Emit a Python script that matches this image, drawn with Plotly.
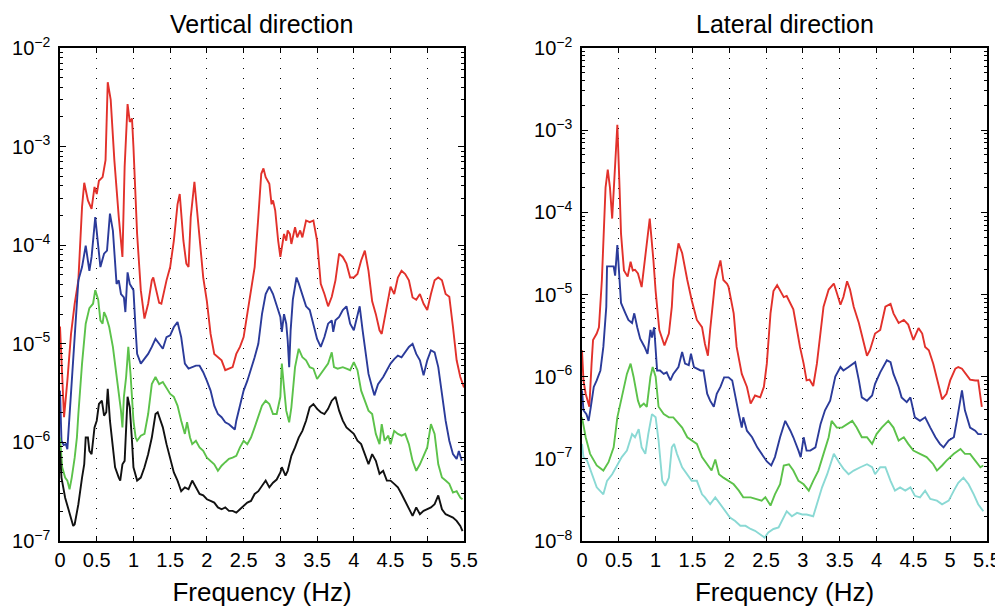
import plotly.graph_objects as go
from plotly.subplots import make_subplots

# ---- Vertical direction ----
v_red_f = [0.00, 0.055, 0.10, 0.15, 0.20, 0.25, 0.30, 0.33, 0.38, 0.43, 0.47, 0.50, 0.53, 0.58, 0.62,
           0.65, 0.69, 0.74, 0.80, 0.85, 0.88, 0.92, 0.95, 0.98, 1.00, 1.05, 1.10, 1.15, 1.20, 1.25,
           1.27, 1.31, 1.35, 1.38, 1.42, 1.45, 1.50, 1.55, 1.60, 1.63, 1.68, 1.72, 1.75, 1.78, 1.83,
           1.90, 1.95, 2.00, 2.05, 2.10, 2.15, 2.20, 2.25, 2.30, 2.35, 2.40, 2.45, 2.50, 2.55, 2.60,
           2.65, 2.70, 2.74, 2.77, 2.80, 2.85, 2.88, 2.90, 2.93, 2.97, 3.00, 3.05, 3.08, 3.10, 3.13,
           3.15, 3.20, 3.23, 3.27, 3.30, 3.35, 3.40, 3.45, 3.50, 3.55, 3.60, 3.65, 3.70, 3.75, 3.80,
           3.85, 3.90, 3.95, 4.00, 4.05, 4.10, 4.15, 4.20, 4.25, 4.30, 4.35, 4.38, 4.42, 4.47, 4.50,
           4.55, 4.60, 4.65, 4.70, 4.75, 4.80, 4.85, 4.90, 4.95, 5.00, 5.05, 5.10, 5.15, 5.20, 5.25,
           5.30, 5.35, 5.40, 5.45, 5.50]
v_red = [1.5e-5, 1.8e-6, 4.2e-6, 1.26e-5, 2.55e-5, 4.4e-5, 2.45e-4, 4.3e-4, 2.85e-4, 2.34e-4, 3.9e-4,
         3.3e-4, 4.5e-4, 4.9e-4, 7.3e-4, 4.5e-3, 3.0e-3, 7.3e-4, 1.93e-4, 7.6e-5, 6.2e-4, 2.7e-3,
         1.78e-3, 1.93e-3, 9.9e-4, 1.3e-4, 3.5e-5, 1.8e-5, 2.55e-5, 4.4e-5, 4.7e-5, 3.5e-5, 2.6e-5,
         2.55e-5, 3.5e-5, 4.4e-5, 6.0e-5, 1.11e-4, 2.6e-4, 3.3e-4, 1.11e-4, 6.5e-5, 6.0e-5, 1.93e-4,
         4.4e-4, 1.2e-4, 4.7e-5, 2.7e-5, 1.26e-5, 7.9e-6, 7.3e-6, 6.8e-6, 5.4e-6, 5.6e-6, 5.8e-6,
         7.9e-6, 9.3e-6, 1.17e-5, 2.0e-5, 3.8e-5, 6.0e-5, 1.93e-4, 5.3e-4, 6.0e-4, 4.9e-4, 4.2e-4,
         2.6e-4, 2.85e-4, 2.25e-4, 1.11e-4, 7.6e-5, 1.3e-4, 1.11e-4, 1.41e-4, 1.3e-4, 1.03e-4, 1.52e-4,
         1.2e-4, 1.41e-4, 1.2e-4, 1.78e-4, 1.71e-4, 1.78e-4, 1.11e-4, 4.05e-5, 3.2e-5, 2.4e-5, 3.0e-5,
         4.4e-5, 8.2e-5, 7.6e-5, 6.5e-5, 4.7e-5, 4.7e-5, 5.1e-5, 7.0e-5, 8.8e-5, 5.5e-5, 2.7e-5,
         2.0e-5, 1.37e-5, 1.26e-5, 1.87e-5, 2.8e-5, 3.8e-5, 3.2e-5, 4.7e-5, 5.5e-5, 5.1e-5, 4.4e-5,
         2.95e-5, 2.8e-5, 3.2e-5, 2.55e-5, 2.2e-5, 3.2e-5, 4.4e-5, 4.7e-5, 4.4e-5, 3.2e-5, 3.0e-5,
         1.48e-5, 6.8e-6, 4.6e-6, 3.6e-6]

v_blue_f = [0.00, 0.02, 0.05, 0.08, 0.10, 0.12, 0.15, 0.20, 0.25, 0.30, 0.35, 0.40, 0.43, 0.48, 0.52,
            0.55, 0.60, 0.64, 0.68, 0.72, 0.77, 0.80, 0.83, 0.87, 0.89, 0.92, 0.95, 1.00, 1.03, 1.05,
            1.10, 1.15, 1.20, 1.25, 1.30, 1.35, 1.40, 1.45, 1.50, 1.55, 1.60, 1.65, 1.70, 1.75, 1.80,
            1.85, 1.90, 1.95, 2.00, 2.05, 2.10, 2.15, 2.20, 2.25, 2.30, 2.35, 2.38, 2.40, 2.45, 2.50,
            2.55, 2.60, 2.65, 2.70, 2.75, 2.80, 2.85, 2.90, 2.95, 3.00, 3.02, 3.05, 3.08, 3.10, 3.12,
            3.14, 3.17, 3.20, 3.22, 3.25, 3.30, 3.35, 3.40, 3.45, 3.50, 3.55, 3.60, 3.65, 3.70, 3.72,
            3.75, 3.80, 3.85, 3.90, 3.95, 4.00, 4.05, 4.08, 4.12, 4.17, 4.20, 4.25, 4.28, 4.33, 4.40,
            4.45, 4.50, 4.55, 4.60, 4.65, 4.70, 4.75, 4.80, 4.85, 4.90, 4.95, 5.00, 5.05, 5.10, 5.15,
            5.20, 5.25, 5.30, 5.35, 5.40, 5.43, 5.47]
v_blue = [3.35e-6, 1.04e-6, 9.4e-7, 9.6e-7, 8.55e-7, 1.42e-6, 3.35e-6, 1.17e-5, 4.4e-5, 6.0e-5, 9.9e-5,
          5.5e-5, 7.6e-5, 1.93e-4, 9.5e-5, 6.0e-5, 8.2e-5, 8.8e-5, 2.09e-4, 1.41e-4, 4.05e-5, 4.4e-5,
          3.2e-5, 2.95e-5, 2.1e-5, 5.3e-5, 4.05e-5, 3.5e-5, 1.37e-5, 7.9e-6, 6.3e-6, 7.0e-6, 7.9e-6,
          9.3e-6, 1.12e-5, 1.0e-5, 8.9e-6, 1.17e-5, 1.22e-5, 1.48e-5, 1.66e-5, 1.17e-5, 6.3e-6, 5.6e-6,
          5.8e-6, 6.0e-6, 6.0e-6, 5.15e-6, 4.2e-6, 3.35e-6, 2.36e-6, 1.94e-6, 1.8e-6, 1.6e-6, 1.53e-6,
          1.42e-6, 1.35e-6, 1.66e-6, 2.45e-6, 3.35e-6, 4.2e-6, 5.4e-6, 7.3e-6, 1.0e-5, 2.0e-5, 3.2e-5,
          3.8e-5, 3.2e-5, 2.4e-5, 1.87e-5, 1.32e-5, 2.0e-5, 1.6e-5, 1.08e-5, 5.8e-6, 1.37e-5, 2.8e-5,
          3.8e-5, 4.7e-5, 4.1e-5, 3.2e-5, 2.4e-5, 2.2e-5, 1.6e-5, 1.12e-5, 9.3e-6, 1.17e-5, 1.6e-5,
          1.73e-5, 1.32e-5, 1.73e-5, 1.87e-5, 2.2e-5, 2.4e-5, 1.6e-5, 1.37e-5, 2.0e-5, 2.4e-5, 1.37e-5,
          7.3e-6, 4.95e-6, 3.6e-6, 3.0e-6, 3.9e-6, 4.6e-6, 5.4e-6, 6.3e-6, 7.0e-6, 7.6e-6, 7.3e-6,
          8.2e-6, 9.3e-6, 1.0e-5, 7.9e-6, 6.8e-6, 4.8e-6, 6.8e-6, 8.6e-6, 8.2e-6, 5.8e-6, 3.1e-6,
          1.66e-6, 1.04e-6, 7.6e-7, 6.8e-7, 8.2e-7, 6.5e-7]

v_green_f = [0.00, 0.03, 0.07, 0.10, 0.13, 0.16, 0.20, 0.23, 0.25, 0.30, 0.35, 0.40, 0.45, 0.48, 0.52,
             0.55, 0.58, 0.60, 0.63, 0.67, 0.72, 0.77, 0.80, 0.83, 0.85, 0.87, 0.90, 0.93, 0.96, 1.00,
             1.03, 1.05, 1.10, 1.15, 1.20, 1.25, 1.30, 1.35, 1.40, 1.45, 1.50, 1.55, 1.60, 1.65, 1.70,
             1.73, 1.77, 1.80, 1.85, 1.90, 1.95, 2.00, 2.05, 2.10, 2.15, 2.20, 2.25, 2.30, 2.35, 2.40,
             2.45, 2.50, 2.55, 2.60, 2.65, 2.70, 2.75, 2.80, 2.85, 2.90, 2.95, 3.00, 3.02, 3.05, 3.08,
             3.12, 3.15, 3.20, 3.25, 3.30, 3.35, 3.40, 3.45, 3.50, 3.55, 3.60, 3.65, 3.70, 3.73, 3.78,
             3.85, 3.90, 3.95, 4.00, 4.05, 4.10, 4.15, 4.20, 4.25, 4.30, 4.35, 4.38, 4.42, 4.47, 4.50,
             4.55, 4.60, 4.65, 4.70, 4.75, 4.80, 4.85, 4.90, 4.95, 5.00, 5.05, 5.10, 5.15, 5.20, 5.25,
             5.30, 5.35, 5.40, 5.45, 5.48]
v_green = [1.12e-6, 5.6e-7, 4.4e-7, 4.1e-7, 3.35e-7, 4.4e-7, 7.0e-7, 1.12e-6, 1.94e-6, 6.3e-6, 1.6e-5,
           2.3e-5, 2.55e-5, 3.5e-5, 2.8e-5, 1.73e-5, 1.6e-5, 2.1e-5, 1.87e-5, 1.48e-5, 9.3e-6, 4.95e-6,
           3.35e-6, 2.1e-6, 1.42e-6, 2.9e-6, 4.6e-6, 9.3e-6, 4.95e-6, 1.66e-6, 1.12e-6, 1.04e-6, 1.17e-6,
           1.22e-6, 1.94e-6, 3.9e-6, 4.6e-6, 3.9e-6, 4.1e-6, 3.5e-6, 3.1e-6, 2.9e-6, 2.36e-6, 1.66e-6,
           1.22e-6, 1.6e-6, 1.12e-6, 9.6e-7, 1.04e-6, 8.9e-7, 8.2e-7, 7.0e-7, 6.5e-7, 6.0e-7, 5.15e-7,
           5.8e-7, 6.3e-7, 6.8e-7, 7.0e-7, 7.3e-7, 8.9e-7, 1.04e-6, 9.6e-7, 1.12e-6, 1.42e-6, 1.8e-6,
           2.36e-6, 2.65e-6, 2.45e-6, 1.94e-6, 1.94e-6, 2.9e-6, 6.3e-6, 3.6e-6, 2.1e-6, 1.6e-6, 2.27e-6,
           5.8e-6, 8.9e-6, 7.3e-6, 6.8e-6, 5.8e-6, 5.6e-6, 4.4e-6, 4.95e-6, 5.6e-6, 6.3e-6, 8.2e-6,
           5.8e-6, 5.6e-6, 5.8e-6, 5.6e-6, 5.4e-6, 6.5e-6, 5.4e-6, 3.35e-6, 2.65e-6, 2.1e-6, 1.94e-6,
           1.22e-6, 9.6e-7, 1.53e-6, 1.04e-6, 1.17e-6, 9.6e-7, 1.31e-6, 1.22e-6, 1.17e-6, 1.22e-6,
           9.6e-7, 6.5e-7, 5.15e-7, 6.0e-7, 7.3e-7, 8.9e-7, 1.53e-6, 1.22e-6, 6.0e-7, 4.4e-7, 4.1e-7,
           3.8e-7, 3.1e-7, 3.2e-7, 2.75e-7, 2.65e-7]

v_black_f = [0.00, 0.02, 0.07, 0.13, 0.18, 0.20, 0.25, 0.30, 0.33, 0.35, 0.38, 0.40, 0.43, 0.47, 0.50,
             0.53, 0.57, 0.60, 0.63, 0.65, 0.68, 0.72, 0.75, 0.80, 0.82, 0.85, 0.88, 0.92, 0.95, 0.98,
             1.00, 1.05, 1.10, 1.15, 1.20, 1.25, 1.30, 1.33, 1.37, 1.40, 1.45, 1.50, 1.55, 1.60, 1.65,
             1.70, 1.75, 1.80, 1.85, 1.90, 1.95, 2.00, 2.05, 2.10, 2.15, 2.20, 2.25, 2.30, 2.35, 2.40,
             2.45, 2.50, 2.55, 2.60, 2.65, 2.70, 2.75, 2.80, 2.85, 2.90, 2.95, 3.00, 3.02, 3.07, 3.10,
             3.15, 3.20, 3.25, 3.30, 3.35, 3.40, 3.45, 3.50, 3.55, 3.60, 3.65, 3.70, 3.75, 3.80, 3.85,
             3.90, 3.95, 4.00, 4.05, 4.10, 4.15, 4.20, 4.25, 4.30, 4.35, 4.40, 4.45, 4.50, 4.55, 4.60,
             4.65, 4.70, 4.75, 4.80, 4.85, 4.90, 4.95, 5.00, 5.05, 5.10, 5.15, 5.20, 5.25, 5.30, 5.35,
             5.40, 5.45, 5.48]
v_black = [8.2e-7, 4.4e-7, 2.75e-7, 1.87e-7, 1.42e-7, 1.48e-7, 2.36e-7, 4.4e-7, 6.0e-7, 1.12e-6, 1.12e-6,
           8.2e-7, 7.6e-7, 1.42e-6, 1.66e-6, 2.45e-6, 2.65e-6, 1.87e-6, 2.02e-6, 3.5e-6, 1.66e-6, 8.9e-7,
           5.6e-7, 4.4e-7, 4.1e-7, 6.0e-7, 6.5e-7, 2.9e-6, 2.27e-6, 1.04e-6, 5.6e-7, 4.1e-7, 4.4e-7,
           5.6e-7, 7.6e-7, 1.12e-6, 1.94e-6, 2.02e-6, 1.66e-6, 1.42e-6, 9.6e-7, 7.0e-7, 4.95e-7, 4.1e-7,
           3.2e-7, 3.5e-7, 3.35e-7, 4.1e-7, 3.5e-7, 3.0e-7, 2.9e-7, 2.65e-7, 2.55e-7, 2.45e-7, 2.19e-7,
           2.1e-7, 2.19e-7, 2.02e-7, 2.02e-7, 1.94e-7, 2.1e-7, 2.27e-7, 2.45e-7, 2.55e-7, 3.0e-7, 3.2e-7,
           3.6e-7, 4.1e-7, 3.5e-7, 3.9e-7, 4.2e-7, 4.95e-7, 5.6e-7, 4.6e-7, 5.15e-7, 7.3e-7, 8.9e-7,
           1.12e-6, 1.31e-6, 1.66e-6, 2.27e-6, 2.45e-6, 2.19e-6, 2.02e-6, 1.94e-6, 2.19e-6, 2.65e-6,
           2.9e-6, 2.1e-6, 1.66e-6, 1.42e-6, 1.31e-6, 1.22e-6, 1.04e-6, 9.6e-7, 7.6e-7, 6.0e-7, 7.6e-7,
           6.5e-7, 4.8e-7, 5.15e-7, 4.1e-7, 4.1e-7, 3.8e-7, 3.5e-7, 3.0e-7, 2.55e-7, 2.19e-7, 1.8e-7,
           2.19e-7, 1.87e-7, 2.02e-7, 2.1e-7, 2.19e-7, 2.36e-7, 2.9e-7, 2.1e-7, 1.87e-7, 1.8e-7, 1.73e-7,
           1.6e-7, 1.42e-7, 1.26e-7]

# ---- Lateral direction ----
l_red_f = [0.00, 0.02, 0.05, 0.10, 0.13, 0.15, 0.20, 0.23, 0.27, 0.30, 0.32, 0.35, 0.38, 0.41, 0.45,
           0.48, 0.51, 0.53, 0.57, 0.60, 0.62, 0.66, 0.69, 0.72, 0.76, 0.81, 0.86, 0.92, 0.97, 1.00,
           1.05, 1.12, 1.18, 1.22, 1.24, 1.31, 1.36, 1.40, 1.43, 1.49, 1.56, 1.63, 1.67, 1.71, 1.74,
           1.81, 1.83, 1.88, 1.92, 1.97, 1.99, 2.06, 2.10, 2.17, 2.24, 2.29, 2.35, 2.42, 2.47, 2.51,
           2.56, 2.60, 2.65, 2.70, 2.74, 2.78, 2.83, 2.87, 2.92, 2.96, 3.01, 3.05, 3.09, 3.14, 3.19,
           3.24, 3.28, 3.35, 3.42, 3.46, 3.51, 3.55, 3.60, 3.64, 3.69, 3.76, 3.82, 3.87, 3.91, 3.98,
           4.05, 4.12, 4.19, 4.23, 4.30, 4.37, 4.43, 4.50, 4.57, 4.62, 4.66, 4.71, 4.77, 4.84, 4.89,
           4.95, 5.00, 5.07, 5.11, 5.16, 5.20, 5.27, 5.34, 5.38, 5.43]
l_red = [2.1e-6, 9.0e-7, 6.2e-7, 4.3e-7, 1.44e-6, 2.8e-6, 3.35e-6, 4.0e-6, 1.5e-5, 8.8e-5, 2.0e-4, 3.3e-4,
         2.0e-4, 8.4e-5, 3.3e-4, 1.16e-3, 2.0e-4, 5.5e-5, 1.96e-5, 1.8e-5, 1.65e-5, 2.5e-5, 1.96e-5,
         2.0e-5, 1.8e-5, 1.23e-5, 3.2e-5, 8.4e-5, 2.6e-5, 1.1e-5, 3.7e-6, 2.4e-6, 3.35e-6, 7.1e-6,
         1.5e-5, 4.2e-5, 3.2e-5, 1.96e-5, 1.5e-5, 8.5e-6, 4.9e-6, 4.0e-6, 2.5e-6, 1.8e-6, 3.7e-6,
         1.5e-5, 1.8e-5, 2.6e-5, 1.5e-5, 1.35e-5, 1.24e-5, 5.9e-6, 2.3e-6, 1.08e-6, 7.5e-7, 4.7e-7,
         5.9e-7, 5.6e-7, 7.5e-7, 1.44e-6, 5.9e-6, 1.1e-5, 1.3e-5, 1.1e-5, 9.3e-6, 9.6e-6, 7.9e-6,
         6.6e-6, 3.7e-6, 2.3e-6, 1.44e-6, 9.0e-7, 9.2e-7, 7.7e-7, 1.44e-6, 3.7e-6, 7.1e-6, 1.15e-5,
         1.36e-5, 1.05e-5, 7.5e-6, 9.3e-6, 1.45e-5, 1.15e-5, 7.1e-6, 4.5e-6, 2.6e-6, 1.8e-6, 2.1e-6,
         3.35e-6, 3.7e-6, 7.1e-6, 7.7e-6, 5.9e-6, 4.5e-6, 4.9e-6, 4.3e-6, 2.8e-6, 3.9e-6, 3.35e-6,
         2.3e-6, 2.1e-6, 1.44e-6, 8.2e-7, 5.3e-7, 6.2e-7, 9.0e-7, 1.25e-6, 1.31e-6, 1.25e-6, 1.13e-6,
         9.2e-7, 9.0e-7, 9.0e-7, 4.3e-7]

l_blue_f = [0.00, 0.02, 0.06, 0.09, 0.12, 0.16, 0.20, 0.25, 0.29, 0.33, 0.34, 0.38, 0.43, 0.45, 0.48,
            0.51, 0.53, 0.59, 0.63, 0.68, 0.71, 0.75, 0.79, 0.85, 0.89, 0.93, 0.95, 0.98, 1.02, 1.06,
            1.11, 1.15, 1.20, 1.24, 1.31, 1.36, 1.40, 1.45, 1.48, 1.52, 1.56, 1.61, 1.65, 1.70, 1.74,
            1.79, 1.83, 1.88, 1.93, 1.99, 2.04, 2.08, 2.13, 2.17, 2.19, 2.24, 2.31, 2.38, 2.44, 2.51,
            2.57, 2.62, 2.69, 2.76, 2.83, 2.87, 2.94, 2.97, 3.01, 3.05, 3.10, 3.17, 3.24, 3.30, 3.37,
            3.44, 3.51, 3.55, 3.62, 3.71, 3.76, 3.80, 3.87, 3.94, 3.98, 4.05, 4.14, 4.19, 4.23, 4.30,
            4.34, 4.41, 4.46, 4.52, 4.59, 4.66, 4.73, 4.80, 4.86, 4.91, 4.98, 5.05, 5.09, 5.16, 5.20,
            5.27, 5.34, 5.38, 5.43]
l_blue = [6.8e-7, 3.9e-7, 3.5e-7, 2.9e-7, 4.3e-7, 7.5e-7, 9.0e-7, 1.19e-6, 2.3e-6, 7.1e-6, 2.2e-5, 2.2e-5,
          2.2e-5, 1.7e-5, 4.0e-5, 1.5e-5, 7.9e-6, 5.9e-6, 4.9e-6, 4.5e-6, 5.9e-6, 4.0e-6, 2.9e-6, 2.3e-6,
          1.9e-6, 3.7e-6, 3.0e-6, 4.0e-6, 1.19e-6, 1.19e-6, 1.08e-6, 1.13e-6, 9.0e-7, 1.08e-6, 1.31e-6,
          2.0e-6, 1.44e-6, 1.38e-6, 1.9e-6, 1.31e-6, 1.25e-6, 1.19e-6, 1.19e-6, 6.2e-7, 5.1e-7, 4.3e-7,
          6.2e-7, 7.5e-7, 9.8e-7, 9.8e-7, 9.0e-7, 5.6e-7, 3.5e-7, 2.4e-7, 3.2e-7, 2.2e-7, 1.83e-7,
          1.38e-7, 1.15e-7, 9.3e-8, 8.3e-8, 1.05e-7, 1.83e-7, 2.9e-7, 2.2e-7, 1.83e-7, 1.26e-7, 1.05e-7,
          1.83e-7, 1.26e-7, 1.26e-7, 1.38e-7, 2.66e-7, 3.9e-7, 5.1e-7, 1.0e-6, 1.31e-6, 1.19e-6, 1.31e-6,
          1.5e-6, 9.0e-7, 5.6e-7, 5.1e-7, 5.9e-7, 8.2e-7, 1.13e-6, 1.58e-6, 1.5e-6, 1.08e-6, 7.5e-7,
          5.6e-7, 4.9e-7, 5.6e-7, 3.2e-7, 2.9e-7, 3.2e-7, 2.4e-7, 1.83e-7, 1.52e-7, 1.38e-7, 1.67e-7,
          1.83e-7, 2.9e-7, 6.8e-7, 3.9e-7, 2.4e-7, 2.2e-7, 2.0e-7, 2.0e-7]

l_green_f = [0.00, 0.05, 0.11, 0.20, 0.29, 0.36, 0.43, 0.48, 0.54, 0.61, 0.66, 0.70, 0.76, 0.79, 0.84,
             0.88, 0.93, 0.96, 1.00, 1.04, 1.11, 1.18, 1.24, 1.31, 1.36, 1.43, 1.49, 1.56, 1.63, 1.70,
             1.76, 1.81, 1.86, 1.92, 1.99, 2.06, 2.13, 2.19, 2.29, 2.38, 2.44, 2.49, 2.56, 2.62, 2.69,
             2.74, 2.81, 2.87, 2.94, 3.01, 3.08, 3.14, 3.21, 3.28, 3.35, 3.39, 3.46, 3.53, 3.60, 3.67,
             3.73, 3.80, 3.87, 3.94, 4.00, 4.07, 4.16, 4.23, 4.30, 4.37, 4.43, 4.50, 4.59, 4.68, 4.77,
             4.82, 4.89, 4.95, 5.05, 5.14, 5.20, 5.27, 5.34, 5.41, 5.45]
l_green = [3.2e-7, 1.83e-7, 1.15e-7, 8.3e-8, 7.2e-8, 9.1e-8, 1.38e-7, 3.2e-7, 5.6e-7, 1.08e-6, 1.44e-6,
           1.0e-6, 5.1e-7, 4.3e-7, 4.7e-7, 4.3e-7, 1.0e-6, 1.31e-6, 1.0e-6, 4.3e-7, 3.5e-7, 3.2e-7,
           3.2e-7, 2.66e-7, 2.4e-7, 1.83e-7, 1.67e-7, 1.52e-7, 1.05e-7, 8.6e-8, 7.2e-8, 9.8e-8, 6.5e-8,
           5.9e-8, 5.4e-8, 4.9e-8, 4.1e-8, 3.4e-8, 3.4e-8, 3.25e-8, 3.1e-8, 3.4e-8, 2.7e-8, 3.7e-8,
           4.9e-8, 8.3e-8, 8.6e-8, 7.2e-8, 5.4e-8, 4.9e-8, 4.1e-8, 5.4e-8, 7.2e-8, 1.15e-7, 1.83e-7,
           2.9e-7, 2.4e-7, 2.4e-7, 2.66e-7, 2.9e-7, 2.4e-7, 1.83e-7, 1.83e-7, 1.52e-7, 2.0e-7, 2.4e-7,
           2.9e-7, 2.4e-7, 1.67e-7, 1.83e-7, 1.52e-7, 1.26e-7, 1.15e-7, 1.05e-7, 8.6e-8, 7.2e-8, 8.3e-8,
           9.5e-8, 1.15e-7, 1.32e-7, 1.15e-7, 1.15e-7, 9.5e-8, 7.9e-8, 8.3e-8]

l_cyan_f = [0.00, 0.02, 0.07, 0.14, 0.20, 0.29, 0.34, 0.41, 0.48, 0.54, 0.61, 0.68, 0.72, 0.77, 0.81,
            0.86, 0.90, 0.95, 1.00, 1.04, 1.09, 1.13, 1.18, 1.22, 1.25, 1.29, 1.36, 1.43, 1.49, 1.56,
            1.63, 1.67, 1.74, 1.81, 1.88, 1.95, 2.01, 2.08, 2.15, 2.22, 2.29, 2.35, 2.42, 2.48, 2.53,
            2.60, 2.67, 2.74, 2.78, 2.85, 2.92, 2.99, 3.05, 3.14, 3.19, 3.26, 3.33, 3.39, 3.42, 3.49,
            3.55, 3.62, 3.69, 3.78, 3.87, 3.94, 3.98, 4.05, 4.12, 4.19, 4.25, 4.32, 4.39, 4.46, 4.52,
            4.59, 4.66, 4.73, 4.82, 4.89, 4.98, 5.05, 5.11, 5.18, 5.25, 5.32, 5.38, 5.45]
l_cyan = [1.52e-7, 1.05e-7, 9.5e-8, 6.5e-8, 4.5e-8, 3.7e-8, 5.4e-8, 6.5e-8, 8.6e-8, 1.05e-7, 1.26e-7,
          2.0e-7, 1.83e-7, 2.3e-7, 1.38e-7, 1.15e-7, 2.0e-7, 3.5e-7, 3.2e-7, 1.67e-7, 5.4e-8, 4.7e-8,
          5.9e-8, 1.38e-7, 1.52e-7, 1.15e-7, 7.9e-8, 6.5e-8, 5.4e-8, 5.4e-8, 3.7e-8, 3.4e-8, 2.8e-8,
          3.4e-8, 2.8e-8, 2.3e-8, 1.93e-8, 1.75e-8, 1.53e-8, 1.53e-8, 1.4e-8, 1.33e-8, 1.2e-8, 1.1e-8,
          1.27e-8, 1.4e-8, 1.46e-8, 1.93e-8, 2.3e-8, 2.0e-8, 2.2e-8, 2.1e-8, 2.1e-8, 2.0e-8, 2.8e-8,
          4.5e-8, 6.5e-8, 1.0e-7, 1.15e-7, 9.1e-8, 7.6e-8, 6.5e-8, 7.2e-8, 7.9e-8, 8.6e-8, 7.9e-8,
          6.5e-8, 7.9e-8, 7.9e-8, 5.4e-8, 4.1e-8, 4.5e-8, 4.1e-8, 4.5e-8, 3.55e-8, 3.4e-8, 4.1e-8,
          3.25e-8, 3.1e-8, 2.8e-8, 3.1e-8, 4.1e-8, 5.1e-8, 5.9e-8, 4.9e-8, 3.7e-8, 2.8e-8, 2.3e-8]

x_ticks = [0, 0.5, 1, 1.5, 2, 2.5, 3, 3.5, 4, 4.5, 5, 5.5]
x_labels = ["0", "0.5", "1", "1.5", "2", "2.5", "3", "3.5", "4", "4.5", "5", "5.5"]
y_ticks = [1e-8, 1e-7, 1e-6, 1e-5, 1e-4, 1e-3, 1e-2]
y_labels = ["10<sup>\u22128</sup>", "10<sup>\u22127</sup>", "10<sup>\u22126</sup>",
            "10<sup>\u22125</sup>", "10<sup>\u22124</sup>", "10<sup>\u22123</sup>",
            "10<sup>\u22122</sup>"]

RED = "#e2312b"
BLUE = "#2b3b9a"
GREEN = "#5cc24a"
BLACK = "#111111"
CYAN = "#8ad9d4"
FONT = "Liberation Sans"

fig = make_subplots(rows=1, cols=2, horizontal_spacing=0.127)

left = [(v_red_f, v_red, RED), (v_blue_f, v_blue, BLUE),
        (v_green_f, v_green, GREEN), (v_black_f, v_black, BLACK)]
right = [(l_red_f, l_red, RED), (l_blue_f, l_blue, BLUE),
         (l_green_f, l_green, GREEN), (l_cyan_f, l_cyan, CYAN)]

for f, v, c in left:
    fig.add_trace(go.Scatter(x=f, y=v, mode="lines", line=dict(color=c, width=1.9),
                             showlegend=False), row=1, col=1)
for f, v, c in right:
    fig.add_trace(go.Scatter(x=f, y=v, mode="lines", line=dict(color=c, width=1.9),
                             showlegend=False), row=1, col=2)

# minor ticks at 2..9 of every decade
minor_vals = [m * d for d in [1e-9, 1e-8, 1e-7, 1e-6, 1e-5, 1e-4, 1e-3] for m in range(2, 10)]

xax = dict(range=[0, 5.5], tickmode="array", tickvals=x_ticks, ticktext=x_labels,
           ticks="inside", ticklen=5, tickcolor="black", tickwidth=1,
           showline=True, linecolor="black", linewidth=1.5, mirror="ticks",
           showgrid=True, gridcolor="black", gridwidth=1, griddash="1px,9px",
           zeroline=False, automargin=False, tickfont=dict(size=20, color="black", family=FONT),
           title=dict(text="Frequency (Hz)", font=dict(size=26, color="black", family=FONT),
                      standoff=13))
yax = dict(type="log", tickmode="array", tickvals=y_ticks, ticktext=y_labels,
           ticks="inside", ticklen=6, tickcolor="black", tickwidth=1,
           showline=True, linecolor="black", linewidth=1.5, mirror="ticks",
           showgrid=False, zeroline=False, automargin=False, ticklabelstandoff=4,
           tickfont=dict(size=20, color="black", family=FONT),
           minor=dict(ticks="inside", ticklen=3, tickcolor="black", tickwidth=1,
                      tickmode="array", tickvals=minor_vals, showgrid=False))

fig.update_xaxes(**xax)
fig.update_yaxes(**yax)
fig.update_yaxes(range=[-7, -2], row=1, col=1)
fig.update_yaxes(range=[-8, -2], row=1, col=2)
fig.update_layout(xaxis=dict(domain=[0, 0.4358]), xaxis2=dict(domain=[0.5631, 1]))

fig.add_annotation(text="Vertical direction", x=0.2179, y=1.0, xref="paper", yref="paper",
                   xanchor="center", yanchor="bottom", yshift=9, showarrow=False, borderpad=0,
                   font=dict(size=25, color="black", family=FONT))
fig.add_annotation(text="Lateral direction", x=0.7816, y=1.0, xref="paper", yref="paper",
                   xanchor="center", yanchor="bottom", yshift=9, showarrow=False, borderpad=0,
                   font=dict(size=25, color="black", family=FONT))

# page body adds an 8px offset, so the figure is drawn 8px smaller
fig.update_layout(width=995, height=601, paper_bgcolor="white", plot_bgcolor="white",
                  margin=dict(l=52, r=16, t=40, b=68), font=dict(family=FONT, color="black"))

fig.write_html("out.html")
